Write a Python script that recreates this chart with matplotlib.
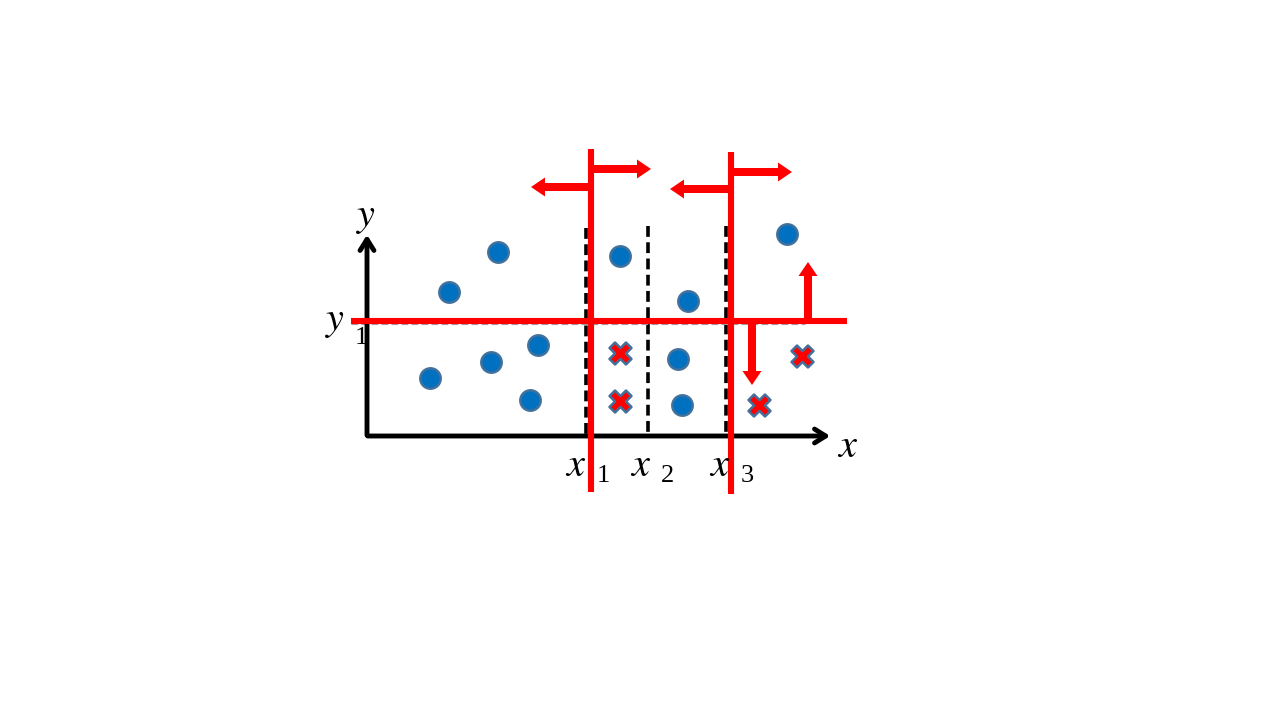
"""Decision-stump style split diagram: points, thresholds and arrows."""

import matplotlib.pyplot as plt

plt.rcParams["mathtext.fontset"] = "stix"

# data (canvas units, y grows downward)
circle_x = [449, 498, 430, 491, 538, 530, 620, 688, 678, 682, 787]
circle_y = [292, 252, 378, 362, 345, 400, 256, 301, 359, 405, 234]
cross_x = [620, 620, 759, 802]
cross_y = [353, 401, 405, 356]

origin = (367, 436)
x_axis_end = 833
y_axis_end = 232

split_y1 = 321
split_x = [591, 731]            # red thresholds x1, x3
split_x_span = [(149, 492), (152, 494)]
dashed_x = [586, 648, 726]
dashed_top = [228, 226, 226]

# arrows: (start x, start y, dx, dy)
arrows = [
    (591, 187, -60, 0),
    (591, 169, 60, 0),
    (731, 189, -61, 0),
    (731, 172, 61, 0),
    (752, 321, 0, 64),
    (808, 321, 0, -59),
]

tick_labels = ["1", "2", "3"]
tick_label_x = [576, 641, 720]

RED = "#FF0000"
BLUE = "#0070C0"
EDGE = "#41719C"

fig = plt.figure(figsize=(12.8, 7.2), dpi=100)
ax = fig.add_axes([0, 0, 1, 1])
ax.set_xlim(0, 1280)
ax.set_ylim(720, 0)
ax.axis("off")

# coordinate axes
ax.annotate("", xy=(x_axis_end, origin[1]), xytext=(origin[0] - 2, origin[1]),
            arrowprops=dict(arrowstyle="->,head_length=0.8,head_width=0.5", lw=3.5, color="black"))
ax.annotate("", xy=(origin[0], y_axis_end), xytext=(origin[0], origin[1] + 2),
            arrowprops=dict(arrowstyle="->,head_length=0.8,head_width=0.5", lw=3.5, color="black"))

# black dashed guides
for xd, top in zip(dashed_x, dashed_top):
    ax.plot([xd, xd], [top, origin[1] + 2], color="black", lw=2.6, ls=(0, (3, 1.5)), zorder=2)

# thin grey dashes under the y1 line
ax.plot([351, 805], [split_y1 + 3, split_y1 + 3], color="#a0a0a0", lw=0.8, ls=(0, (6, 3)), zorder=2)

# red split lines
ax.plot([351, 847], [split_y1, split_y1], color=RED, lw=4.4, solid_capstyle="butt", zorder=3)
for xs, (t, b) in zip(split_x, split_x_span):
    ax.plot([xs, xs], [t, b], color=RED, lw=4.4, solid_capstyle="butt", zorder=3)

for sx, sy, dx, dy in arrows:
    ax.arrow(sx, sy, dx, dy, width=8, head_width=19, head_length=14,
             length_includes_head=True, color=RED, lw=0, zorder=3)

# points
ax.scatter(circle_x, circle_y, s=215, c=BLUE, edgecolors=EDGE, linewidths=1.8, zorder=4)
ax.scatter(cross_x, cross_y, s=250, marker="X", c=RED, edgecolors=EDGE, linewidths=1.8, zorder=4)

# labels
ax.text(366, 216, "$y$", fontsize=29, ha="center", va="center")
ax.text(848, 446, "$x$", fontsize=29, ha="center", va="center")
ax.text(335, 320, "$y$", fontsize=29, ha="center", va="center")
ax.text(361, 338, "1", fontsize=19, family="Liberation Serif", ha="center", va="center")
for lab, lx in zip(tick_labels, tick_label_x):
    ax.text(lx, 465, "$x$", fontsize=29, ha="center", va="center")
    ax.text(lx + 27, 476, lab, fontsize=19, family="Liberation Serif", ha="center", va="center")

fig.savefig("out.png", dpi=100)
